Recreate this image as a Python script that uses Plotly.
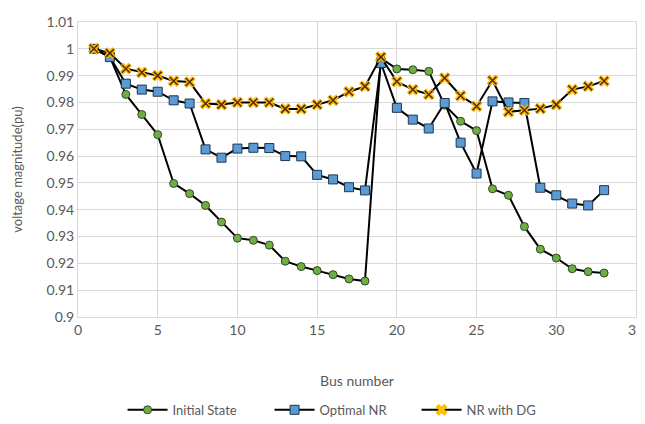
import plotly.graph_objects as go

bus = list(range(1, 34))
initial_state = [1.0, 0.997, 0.983, 0.9755, 0.968, 0.9498, 0.946, 0.9416, 0.9354, 0.9294, 0.9286, 0.9268,
                 0.9208, 0.9188, 0.9173, 0.9158, 0.9142, 0.9134, 0.9965, 0.9925, 0.9922, 0.9916, 0.979,
                 0.973, 0.9695, 0.9478, 0.9454, 0.9337, 0.9253, 0.922, 0.918, 0.9169, 0.9164]
optimal_nr = [1.0, 0.9969, 0.987, 0.9848, 0.984, 0.9808, 0.9796, 0.9625, 0.9594, 0.9628, 0.9631, 0.963,
              0.960, 0.9599, 0.953, 0.9513, 0.9484, 0.9472, 0.9947, 0.978, 0.9736, 0.9703, 0.9798,
              0.965, 0.9535, 0.9804, 0.980, 0.9798, 0.9482, 0.9454, 0.9423, 0.9416, 0.9473]
nr_with_dg = [1.0, 0.9984, 0.9926, 0.9912, 0.990, 0.988, 0.9876, 0.9796, 0.9792, 0.980, 0.980, 0.980,
              0.9776, 0.9776, 0.9792, 0.9808, 0.984, 0.986, 0.9969, 0.9878, 0.9848, 0.983, 0.9891,
              0.9825, 0.9786, 0.9882, 0.9765, 0.9771, 0.9777, 0.9792, 0.9848, 0.986, 0.988]

x_ticks = [0, 5, 10, 15, 20, 25, 30, 35]
y_ticks = [0.9, 0.91, 0.92, 0.93, 0.94, 0.95, 0.96, 0.97, 0.98, 0.99, 1.0, 1.01]
y_labels = ["0.9", "0.91", "0.92", "0.93", "0.94", "0.95", "0.96", "0.97", "0.98", "0.99", "1", "1.01"]

font = "Lato, 'Open Sans', sans-serif"
grey = "#595959"

fig = go.Figure()
fig.add_trace(go.Scatter(x=bus, y=initial_state, name="Initial State", mode="lines+markers",
                         line=dict(color="black", width=2),
                         marker=dict(symbol="circle", size=8, color="#70AD47",
                                     line=dict(color="#2F4A1E", width=1))))
fig.add_trace(go.Scatter(x=bus, y=optimal_nr, name="Optimal NR", mode="lines+markers",
                         line=dict(color="black", width=2),
                         marker=dict(symbol="square", size=9, color="#5B9BD5",
                                     line=dict(color="#1F3550", width=1))))
fig.add_trace(go.Scatter(x=bus, y=nr_with_dg, name="NR with DG", mode="lines+markers",
                         legendgroup="dg",
                         line=dict(color="black", width=2),
                         marker=dict(symbol="x", size=10, color="#FFC000",
                                     line=dict(color="#E0A800", width=0.5))))
fig.add_trace(go.Scatter(x=bus, y=nr_with_dg, name="NR with DG", mode="markers",
                         legendgroup="dg", showlegend=False, hoverinfo="skip",
                         marker=dict(symbol="x-thin-open", size=8, color="#5A2A00",
                                     line=dict(color="#5A2A00", width=1.5))))

# page body has an 8px default margin, so the figure is sized to fit the 645x424 window
fig.update_layout(
    width=637, height=416,
    margin=dict(l=70, r=9, t=14, b=107),
    paper_bgcolor="white", plot_bgcolor="white",
    font=dict(family=font, size=13, color=grey),
    showlegend=True,
    legend=dict(orientation="h", x=0.475, xanchor="center", yref="container", y=0.034,
                yanchor="middle", font=dict(size=13, color=grey), itemwidth=40, entrywidth=92,
                entrywidthmode="pixels"),
    xaxis=dict(range=[0, 35], tickvals=x_ticks, showgrid=True, gridcolor="#D9D9D9", gridwidth=1,
               zeroline=False, showline=True, linecolor="#D9D9D9", linewidth=1, mirror=True,
               ticks="", tickfont=dict(size=14, color=grey), automargin=False,
               ticklabeloverflow="allow",
               title=dict(text="Bus number", font=dict(size=14, color=grey), standoff=39)),
    yaxis=dict(range=[0.9, 1.01], tickvals=y_ticks, ticktext=y_labels, showgrid=True,
               gridcolor="#D9D9D9", gridwidth=1, zeroline=False, showline=True,
               linecolor="#D9D9D9", linewidth=1, mirror=True, ticks="",
               tickfont=dict(size=14, color=grey), automargin=False,
               title=dict(text="voltage magnitude(pu)", font=dict(size=13, color=grey), standoff=20)),
)

fig.write_html("out.html")
